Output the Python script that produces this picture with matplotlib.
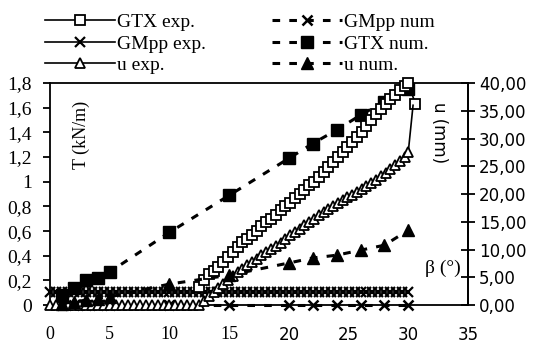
import matplotlib.pyplot as plt
from matplotlib.ticker import FuncFormatter

# beta (deg) vs T (kN/m) / u (mm)
gtx_exp_beta = [12.5, 12.9, 13.3, 13.7, 14.1, 14.5, 14.9, 15.3, 15.7, 16.1, 16.5, 16.9,
                17.3, 17.7, 18.1, 18.5, 18.9, 19.3, 19.7, 20.1, 20.5, 20.9, 21.3, 21.7,
                22.1, 22.5, 22.9, 23.3, 23.7, 24.1, 24.5, 24.9, 25.3, 25.7, 26.1, 26.5,
                26.9, 27.3, 27.7, 28.1, 28.5, 28.9, 29.3, 29.7, 30.0, 30.6]
gtx_exp_T = [0.15, 0.20, 0.25, 0.28, 0.31, 0.35, 0.39, 0.43, 0.47, 0.51, 0.54, 0.57,
             0.60, 0.64, 0.67, 0.70, 0.73, 0.77, 0.80, 0.83, 0.87, 0.90, 0.93, 0.97,
             1.00, 1.04, 1.08, 1.12, 1.16, 1.20, 1.24, 1.28, 1.32, 1.36, 1.40, 1.45,
             1.50, 1.55, 1.59, 1.63, 1.67, 1.70, 1.74, 1.78, 1.80, 1.63]

gmpp_exp_beta = [0, 0.5, 1, 1.5, 2, 2.5, 3, 3.5, 4, 4.5, 5, 5.5, 6, 6.5, 7, 7.5, 8, 8.5,
                 9, 9.5, 10, 10.5, 11, 11.5, 12, 12.5, 13, 13.5, 14, 14.5, 15, 15.5, 16,
                 16.5, 17, 17.5, 18, 18.5, 19, 19.5, 20, 20.5, 21, 21.5, 22, 22.5, 23,
                 23.5, 24, 24.5, 25, 25.5, 26, 26.5, 27, 27.5, 28, 28.5, 29, 29.5, 30]
gmpp_exp_T = [0.11] * len(gmpp_exp_beta)

u_exp_beta = [0, 0.5, 1, 1.5, 2, 2.5, 3, 3.5, 4, 4.5, 5, 5.5, 6, 6.5, 7, 7.5, 8, 8.5,
              9, 9.5, 10, 10.5, 11, 11.5, 12, 12.5, 12.9, 13.3, 13.7, 14.1, 14.5, 14.9,
              15.3, 15.7, 16.1, 16.5, 16.9, 17.3, 17.7, 18.1, 18.5, 18.9, 19.3, 19.7,
              20.1, 20.5, 20.9, 21.3, 21.7, 22.1, 22.5, 22.9, 23.3, 23.7, 24.1, 24.5,
              24.9, 25.3, 25.7, 26.1, 26.5, 26.9, 27.3, 27.7, 28.1, 28.5, 28.9, 29.3,
              29.7, 30.0, 30.4]
u_exp_mm = [0] * 26 + [0.8, 1.6, 2.4, 3.1, 3.8, 4.5, 5.2, 5.9, 6.6, 7.2, 7.8, 8.4, 9.0,
                       9.6, 10.1, 10.6, 11.2, 11.9, 12.6, 13.2, 13.8, 14.4, 15.0, 15.6,
                       16.2, 16.8, 17.4, 17.9, 18.4, 18.9, 19.4, 19.9, 20.4, 20.9, 21.4,
                       22.0, 22.6, 23.2, 23.8, 24.5, 25.2, 25.9, 26.7, 27.6, 36.0]

num_beta = [1, 2, 3, 4, 5, 10, 15, 20, 22, 24, 26, 28, 30]
gtx_num_T = [0.08, 0.14, 0.20, 0.22, 0.27, 0.59, 0.89, 1.19, 1.31, 1.42, 1.54, 1.65, 1.75]
gmpp_num_T = [0, 0, 0, 0, 0, 0, 0, 0, 0, 0, 0, 0, 0]
u_num_mm = [0.3, 0.6, 0.9, 1.2, 1.5, 3.8, 5.4, 7.6, 8.5, 9.0, 9.9, 10.8, 13.5]

serif = 'Liberation Serif'
sans = 'DejaVu Sans'

fig = plt.figure(figsize=(5.33, 3.46), dpi=100)
ax = fig.add_axes([0.094, 0.118, 0.784, 0.642])
ax2 = ax.twinx()

dash = (0, (2.5, 3.0))

l1, = ax.plot(gtx_exp_beta, gtx_exp_T, '-', color='black', lw=1.2, marker='s',
              ms=6.5, mfc='white', mec='black', mew=1.3, clip_on=False, zorder=4)
l2, = ax.plot(gmpp_exp_beta, gmpp_exp_T, '-', color='black', lw=1.2, marker='x',
              ms=7, mew=1.6, clip_on=False, zorder=3)
l4, = ax.plot(num_beta, gmpp_num_T, linestyle=dash, color='black', lw=2.2, marker='x',
              ms=7, mew=1.8, clip_on=False, zorder=3)
l5, = ax.plot(num_beta, gtx_num_T, linestyle=dash, color='black', lw=2.2, marker='s',
              ms=8, mfc='black', mec='black', clip_on=False, zorder=3)
l3, = ax2.plot(u_exp_beta, u_exp_mm, '-', color='black', lw=1.2, marker='^',
               ms=6.5, mfc='white', mec='black', mew=1.3, clip_on=False,
               markevery=list(range(len(u_exp_beta) - 1)))
l6, = ax2.plot(num_beta, u_num_mm, linestyle=dash, color='black', lw=2.2, marker='^',
               ms=8, mfc='black', mec='black', clip_on=False)

ax.set_xlim(0, 35)
ax.set_ylim(0, 1.8)
ax2.set_ylim(0, 40)

ax.set_yticks([0, 0.2, 0.4, 0.6, 0.8, 1.0, 1.2, 1.4, 1.6, 1.8])
ax.yaxis.set_major_formatter(FuncFormatter(lambda v, p: ('%g' % round(v, 1)).replace('.', ',')))
ax2.set_yticks([0, 5, 10, 15, 20, 25, 30, 35, 40])
ax2.yaxis.set_major_formatter(FuncFormatter(lambda v, p: ('%.2f' % v).replace('.', ',')))
ax.set_xticks([0, 5, 10, 15, 20, 25, 30, 35])

ax.tick_params(axis='y', direction='out', length=5, width=1.3, labelsize=14, pad=8)
ax.tick_params(axis='x', length=0, pad=15, labelsize=13)
ax2.tick_params(axis='y', direction='inout', length=10, width=1.3, labelsize=12, pad=3)
for t in ax.get_yticklabels():
    t.set_fontfamily(serif)
for t in ax2.get_yticklabels():
    t.set_fontfamily(sans)
for i, t in enumerate(ax.get_xticklabels()):
    t.set_fontfamily(serif if i < 4 else sans)
    if i >= 4:
        t.set_fontsize(12)

for a in (ax, ax2):
    for s in a.spines.values():
        s.set_linewidth(1.3)
ax2.spines['left'].set_visible(False)
ax2.spines['bottom'].set_visible(False)
ax2.spines['top'].set_visible(False)

ax.text(2.6, 1.38, 'T (kN/m)', rotation=90, family=serif, fontsize=13,
        ha='center', va='center')
ax2.text(32.6, 31, 'u (mm)', rotation=270, family=sans, fontsize=12,
         ha='center', va='center')
ax.text(32.9, 0.3, 'β (°)', family=serif, fontsize=14, ha='center', va='center')

fig.legend([l1, l2, l3, l4, l5, l6],
           ['GTX exp.', 'GMpp exp.', 'u exp.', 'GMpp num', 'GTX num.', 'u num.'],
           ncol=2, loc='upper left', bbox_to_anchor=(0.063, 0.995), frameon=False,
           prop={'family': serif, 'size': 14}, handlelength=3.6, handletextpad=0.1,
           columnspacing=3.4, labelspacing=0.2, borderpad=0.1)

fig.savefig('out.png', dpi=100)
